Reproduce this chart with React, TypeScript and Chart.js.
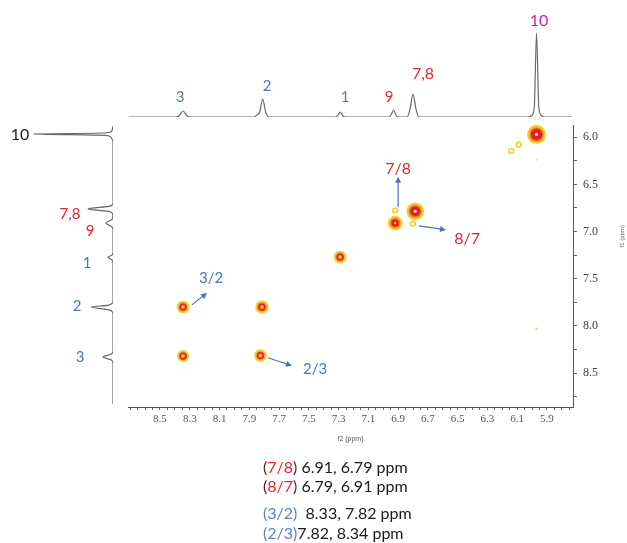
import { useEffect, useRef } from 'react';
import { Chart, registerables } from 'chart.js';

Chart.register(...registerables);

// ---------------- data ----------------
// axis ranges (ppm)
const F2_MIN = 5.725;
const F2_MAX = 8.715;
const F1_MIN = 5.87;
const F1_MAX = 8.86;

// tick labels
const f2TickLabels = [8.5, 8.3, 8.1, 7.9, 7.7, 7.5, 7.3, 7.1, 6.9, 6.7, 6.5, 6.3, 6.1, 5.9];
const f1TickLabels = [6.0, 6.5, 7.0, 7.5, 8.0, 8.5];

// 2D COSY cross / diagonal peaks
const peakF2 = [5.97, 6.785, 6.92, 7.29, 8.345, 7.815, 8.345, 7.825, 6.92, 6.8, 6.14, 6.09, 5.97, 5.97];
const peakF1 = [5.97, 6.785, 6.91, 7.27, 7.8, 7.8, 8.32, 8.315, 6.775, 6.915, 6.145, 6.08, 8.03, 6.24];
const peakIntensity = [1.0, 0.9, 0.7, 0.55, 0.55, 0.6, 0.5, 0.55, 0.2, 0.2, 0.2, 0.18, 0.08, 0.05];

// 1D projection on top (f2): ppm, intensity
const topPpm = [8.71, 8.39, 8.37, 8.345, 8.32, 8.3, 7.87, 7.85, 7.83, 7.81, 7.79, 7.77, 7.32, 7.3, 7.29, 7.27, 7.25, 6.96, 6.945, 6.93, 6.915, 6.9, 6.84, 6.82, 6.8, 6.78, 6.76, 6.02, 6.0, 5.985, 5.97, 5.955, 5.94, 5.92, 5.73];
const topIntensity = [0, 0, 1.5, 6, 1.5, 0, 0, 2, 5, 18, 5, 0, 0, 2.5, 5, 1, 0, 0, 3, 7, 2, 0, 0, 8, 23, 8, 0, 0, 2, 10, 84, 10, 2, 0, 0];

// 1D projection on the left (f1): ppm, intensity
const leftPpm = [5.88, 5.93, 5.955, 5.965, 5.98, 6.0, 6.05, 6.7, 6.73, 6.76, 6.79, 6.83, 6.87, 6.91, 6.95, 6.98, 7.22, 7.25, 7.27, 7.3, 7.33, 7.74, 7.78, 7.8, 7.83, 7.87, 8.27, 8.3, 8.33, 8.36, 8.4, 8.83];
const leftIntensity = [0, 1, 10, 80, 8, 2, 0, 0, 3, 25, 3, 0, 1, 7, 1, 0, 0, 1, 5, 1, 0, 0, 4, 22, 4, 0, 0, 2, 10, 2, 0, 0];

// peak labels
const topLabelText = ['3', '2', '1', '9', '7,8', '10'];
const topLabelPpm = [8.365, 7.78, 7.257, 6.96, 6.733, 5.953];
const leftLabelText = ['10', '7,8', '9', '1', '2', '3'];
const leftLabelPpm = [5.976, 6.813, 6.993, 7.332, 7.787, 8.328];

const BLUE = '#4a76c2';
const RED = '#e1262a';
const MAGENTA = '#c61f9f';

// ---------------- helpers ----------------
const near = (list: number[], v: number) => list.some((m) => Math.abs(m - v) < 1e-6);

function arrow(ctx: CanvasRenderingContext2D, x1: number, y1: number, x2: number, y2: number, color: string) {
  const ang = Math.atan2(y2 - y1, x2 - x1);
  const len = 6;
  const hw = 3;
  ctx.save();
  ctx.strokeStyle = color;
  ctx.fillStyle = color;
  ctx.lineWidth = 1.2;
  ctx.beginPath();
  ctx.moveTo(x1, y1);
  ctx.lineTo(x2 - Math.cos(ang) * len * 0.8, y2 - Math.sin(ang) * len * 0.8);
  ctx.stroke();
  ctx.beginPath();
  ctx.moveTo(x2, y2);
  ctx.lineTo(x2 - Math.cos(ang) * len - Math.sin(ang) * hw, y2 - Math.sin(ang) * len + Math.cos(ang) * hw);
  ctx.lineTo(x2 - Math.cos(ang) * len + Math.sin(ang) * hw, y2 - Math.sin(ang) * len - Math.cos(ang) * hw);
  ctx.closePath();
  ctx.fill();
  ctx.restore();
}

const LABEL_FONT = 'Lato, "Open Sans", sans-serif';

const mainAnnotations = {
  id: 'nmrAnnotations',
  afterDatasetsDraw(chart: any) {
    const { ctx } = chart;
    const x = chart.scales.x;
    const y = chart.scales.y;
    const px = (v: number) => x.getPixelForValue(v);
    const py = (v: number) => y.getPixelForValue(v);
    // arrows [f2 start, f1 start, f2 end, f1 end]
    const arrows: [number, number, number, number][] = [
      [8.285, 7.777, 8.184, 7.65],
      [7.774, 8.338, 7.613, 8.423],
      [6.9, 6.739, 6.9, 6.42],
      [6.759, 6.94, 6.578, 6.982],
    ];
    arrows.forEach((a) => arrow(ctx, px(a[0]), py(a[1]), px(a[2]), py(a[3]), '#4472c4'));
    const labels: [string, number, number, string, number][] = [
      ['3/2', 8.157, 7.49, BLUE, 15],
      ['2/3', 7.458, 8.455, BLUE, 15],
      ['7/8', 6.9, 6.336, RED, 16],
      ['8/7', 6.437, 7.078, RED, 16],
    ];
    ctx.save();
    ctx.textAlign = 'center';
    ctx.textBaseline = 'middle';
    labels.forEach(([t, f2, f1, c, s]) => {
      ctx.fillStyle = c;
      ctx.font = `${s}px ${LABEL_FONT}`;
      ctx.fillText(t, px(f2), py(f1));
    });
    // f1 axis title
    ctx.translate(chart.width - 5, py(7.05));
    ctx.rotate(-Math.PI / 2);
    ctx.fillStyle = '#666';
    ctx.font = '6px "Liberation Sans", sans-serif';
    ctx.fillText('f1 (ppm)', 0, 0);
    ctx.restore();
  },
};

function makeLabelPlugin(texts: string[], ppms: number[], values: number[], colors: string[], sizes: number[], vertical: boolean) {
  return {
    id: 'specLabels',
    afterDatasetsDraw(chart: any) {
      const { ctx } = chart;
      const x = chart.scales.x;
      const y = chart.scales.y;
      ctx.save();
      ctx.textAlign = 'center';
      ctx.textBaseline = 'middle';
      texts.forEach((t, i) => {
        ctx.fillStyle = colors[i];
        ctx.font = `${sizes[i]}px ${LABEL_FONT}`;
        const X = vertical ? x.getPixelForValue(values[i]) : x.getPixelForValue(ppms[i]);
        const Y = vertical ? y.getPixelForValue(ppms[i]) : y.getPixelForValue(values[i]);
        ctx.fillText(t, X, Y);
      });
      ctx.restore();
    },
  };
}

// ---------------- charts ----------------
function peakLayer(
  radius: (v: number) => number,
  color: (v: number) => string,
  show: (v: number) => boolean,
  border?: (v: number) => string,
  borderWidth?: (v: number) => number,
) {
  const idx = peakIntensity.map((v, i) => i).filter((i) => show(peakIntensity[i]));
  const r = idx.map((i) => radius(peakIntensity[i]));
  return {
    data: idx.map((i) => ({ x: peakF2[i], y: peakF1[i] })),
    pointRadius: r,
    pointHoverRadius: r,
    pointBackgroundColor: idx.map((i) => color(peakIntensity[i])),
    pointBorderColor: idx.map((i) => (border ? border(peakIntensity[i]) : color(peakIntensity[i]))),
    pointBorderWidth: idx.map((i) => (borderWidth ? borderWidth(peakIntensity[i]) : 0)),
  };
}

function mainConfig(): any {
  const serif = '"Liberation Serif", "DejaVu Serif", serif';
  return {
    type: 'scatter',
    data: {
      datasets: [
        // drawn top-first
        peakLayer((v) => (v >= 0.85 ? 1.6 : 1.1), (v) => (v >= 0.85 ? '#fff3ee' : '#ffd9cc'), (v) => v >= 0.5),
        peakLayer(() => 1.6, () => '#fffbe8', (v) => v >= 0.15 && v < 0.3),
        peakLayer(
          (v) => (v >= 0.85 ? 7 * v - 1.5 : v >= 0.65 ? 3.6 : 3.0),
          (v) => (v >= 0.65 ? '#e3201c' : '#f27a4a'),
          (v) => v >= 0.5,
          () => '#e3201c',
          (v) => (v >= 0.65 ? 0 : 1.3),
        ),
        peakLayer((v) => 7 * v - 0.3, () => '#ee6a22', (v) => v >= 0.5),
        peakLayer((v) => 1 + 6.5 * v, () => '#f59b25', (v) => v >= 0.4),
        peakLayer((v) => (v >= 0.3 ? 2.5 + 7 * v : v >= 0.15 ? 3.2 : 14 * v), () => '#f5cf2a', () => true),
      ],
    },
    options: {
      animation: false,
      responsive: false,
      events: [],
      layout: { padding: { left: 128, top: 125, right: 0, bottom: 96 } },
      plugins: { legend: { display: false }, tooltip: { enabled: false } },
      scales: {
        x: {
          type: 'linear',
          position: 'bottom',
          reverse: true,
          min: F2_MIN,
          max: F2_MAX,
          afterBuildTicks: (s: any) => {
            const t = [];
            for (let k = Math.ceil(F2_MIN / 0.05 - 1e-9); k * 0.05 <= F2_MAX + 1e-9; k++) t.push({ value: +(k * 0.05).toFixed(2) });
            s.ticks = t;
          },
          afterFit: (s: any) => {
            s.height = 40;
          },
          ticks: {
            autoSkip: false,
            maxRotation: 0,
            padding: 3,
            color: '#555',
            font: { family: serif, size: 11 },
            callback: (v: number) => (near(f2TickLabels, v) ? v.toFixed(1) : ''),
          },
          grid: { drawOnChartArea: false, drawTicks: true, tickLength: 3, color: '#666', tickWidth: 1 },
          border: { display: true, color: '#555', width: 1 },
          title: {
            display: true,
            text: 'f2 (ppm)',
            color: '#555',
            font: { family: '"Liberation Sans", sans-serif', size: 7 },
            padding: { top: 2, bottom: 4 },
          },
        },
        y: {
          type: 'linear',
          position: 'right',
          reverse: true,
          min: F1_MIN,
          max: F1_MAX,
          afterBuildTicks: (s: any) => {
            const t = [];
            for (let k = Math.ceil(F1_MIN / 0.25 - 1e-9); k * 0.25 <= F1_MAX + 1e-9; k++) t.push({ value: +(k * 0.25).toFixed(2) });
            s.ticks = t;
          },
          afterFit: (s: any) => {
            s.width = 54;
          },
          ticks: {
            autoSkip: false,
            padding: 6,
            color: '#444',
            font: { family: serif, size: 12 },
            callback: (v: number) => (near(f1TickLabels, v) ? v.toFixed(1) : ''),
          },
          grid: { drawOnChartArea: false, drawTicks: true, tickLength: 4, color: '#666', tickWidth: 1 },
          border: { display: true, color: '#555', width: 1 },
        },
      },
    },
    plugins: [mainAnnotations],
  };
}

function topConfig(): any {
  return {
    type: 'line',
    data: {
      datasets: [
        {
          data: topPpm.map((p, i) => ({ x: p, y: topIntensity[i] })),
          borderColor: '#6a6a6a',
          borderWidth: 1.2,
          pointRadius: 0,
          cubicInterpolationMode: 'monotone',
          fill: false,
        },
      ],
    },
    options: {
      animation: false,
      responsive: false,
      events: [],
      layout: { padding: { left: 128, right: 54, top: 13, bottom: 8 } },
      plugins: { legend: { display: false }, tooltip: { enabled: false } },
      scales: {
        x: { type: 'linear', display: false, reverse: true, min: F2_MIN, max: F2_MAX },
        y: { type: 'linear', display: false, min: 0, max: 104 },
      },
    },
    plugins: [
      makeLabelPlugin(
        topLabelText,
        topLabelPpm,
        [20, 31, 20, 20, 43, 96],
        [BLUE, BLUE, BLUE, RED, RED, MAGENTA],
        [15, 15, 15, 15, 16, 16],
        false,
      ),
    ],
  };
}

function leftConfig(): any {
  return {
    type: 'line',
    data: {
      datasets: [
        {
          data: leftPpm.map((p, i) => ({ x: leftIntensity[i], y: p })),
          borderColor: '#6a6a6a',
          borderWidth: 1.2,
          pointRadius: 0,
          cubicInterpolationMode: 'monotone',
          fill: false,
          indexAxis: 'y',
        },
      ],
    },
    options: {
      animation: false,
      responsive: false,
      events: [],
      indexAxis: 'y',
      layout: { padding: { left: 9, right: 15, top: 125, bottom: 136 } },
      plugins: { legend: { display: false }, tooltip: { enabled: false } },
      scales: {
        x: { type: 'linear', display: false, reverse: true, min: 0, max: 104 },
        y: { type: 'linear', display: false, reverse: true, min: F1_MIN, max: F1_MAX },
      },
    },
    plugins: [
      makeLabelPlugin(
        leftLabelText,
        leftLabelPpm,
        [93, 43, 23, 26, 36, 33],
        ['#1e1e1e', RED, RED, BLUE, BLUE, BLUE],
        [16, 15, 15, 15, 15, 15],
        true,
      ),
    ],
  };
}

// ---------------- bottom caption ----------------
const captionPairs = ['7/8', '8/7', '3/2', '2/3'];
const captionShifts = ['6.91, 6.79 ppm', '6.79, 6.91 ppm', '8.33, 7.82 ppm', '7.82, 8.34 ppm'];
const captionGap = [' ', ' ', '  ', ''];
const captionColor = [RED, RED, '#5b82c8', '#5b82c8'];
const captionParen = ['#4a2a24', '#4a2a24', '#5b82c8', '#5b82c8'];
const captionTop = [457, 476, 503, 523];

export default function App() {
  const mainRef = useRef<HTMLCanvasElement>(null);
  const topRef = useRef<HTMLCanvasElement>(null);
  const leftRef = useRef<HTMLCanvasElement>(null);

  useEffect(() => {
    const charts = [
      new Chart(mainRef.current as HTMLCanvasElement, mainConfig()),
      new Chart(topRef.current as HTMLCanvasElement, topConfig()),
      new Chart(leftRef.current as HTMLCanvasElement, leftConfig()),
    ];
    return () => charts.forEach((c) => c.destroy());
  }, []);

  return (
    <div style={{ position: 'fixed', left: 0, top: 0, width: 627, height: 543, background: '#fff', overflow: 'hidden' }}>
      <canvas ref={mainRef} width={627} height={543} style={{ position: 'absolute', left: 0, top: 0 }} />
      <canvas ref={topRef} width={627} height={125} style={{ position: 'absolute', left: 0, top: 0 }} />
      <canvas ref={leftRef} width={128} height={543} style={{ position: 'absolute', left: 0, top: 0 }} />
      {captionPairs.map((p, i) => (
        <div
          key={p}
          style={{
            position: 'absolute',
            left: 263,
            top: captionTop[i],
            fontFamily: LABEL_FONT,
            fontSize: 16,
            lineHeight: '19px',
            color: '#1a1a1a',
            whiteSpace: 'pre',
          }}
        >
          <span style={{ color: captionParen[i] }}>(</span>
          <span style={{ color: captionColor[i] }}>{p}</span>
          <span style={{ color: captionParen[i] }}>)</span>
          {captionGap[i] + captionShifts[i]}
        </div>
      ))}
    </div>
  );
}
